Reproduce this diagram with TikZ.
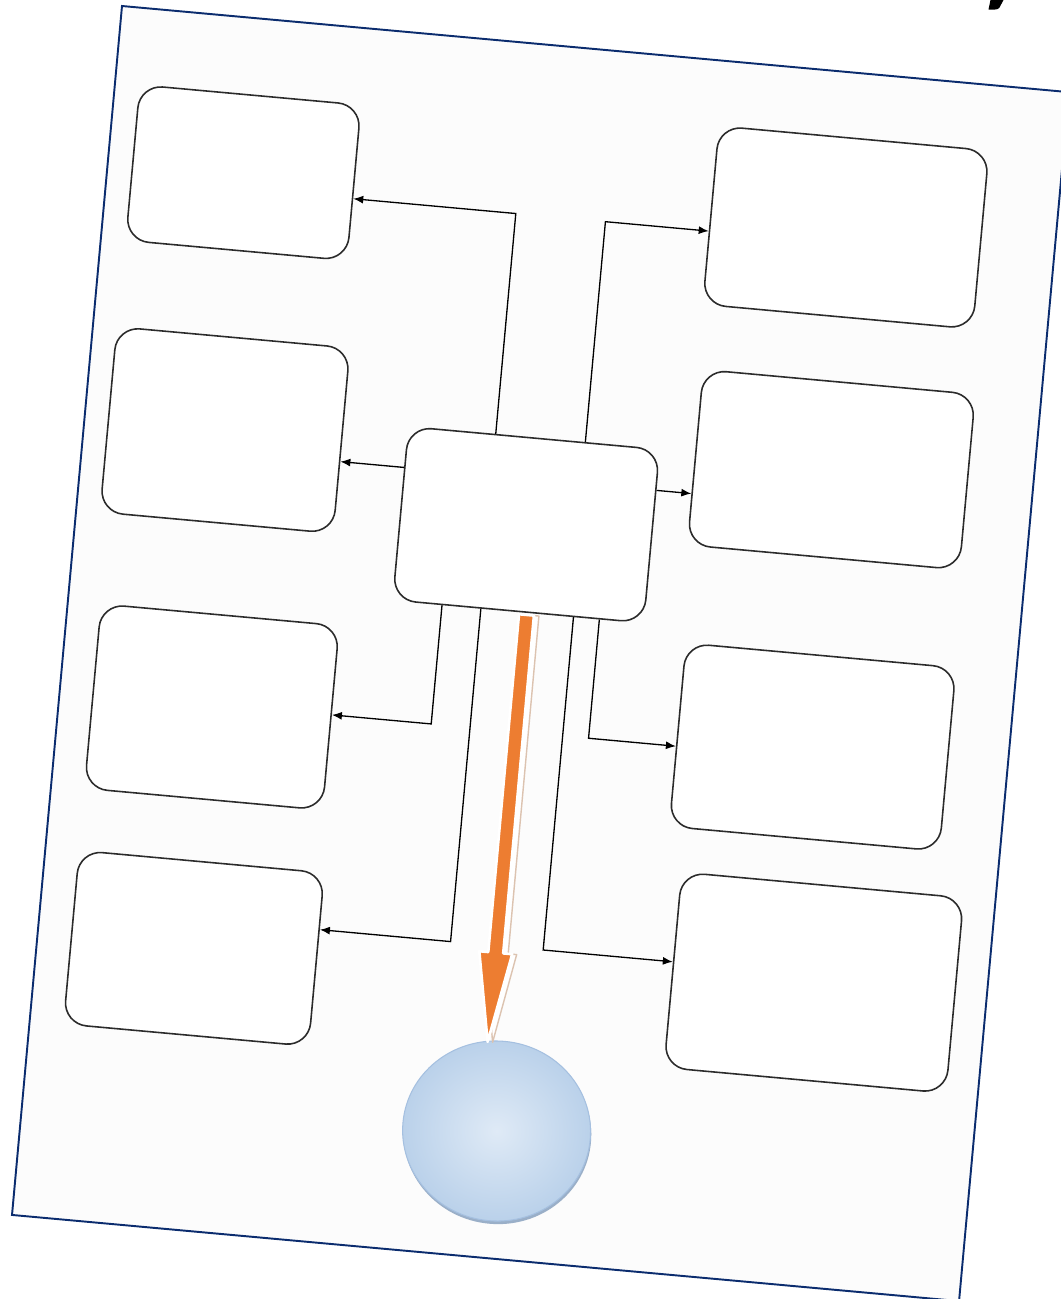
\documentclass[tikz,border=0pt]{standalone}
\usepackage{tikz}
\usetikzlibrary{arrows.meta, calc, shapes.geometric}
\definecolor{my_navy}{HTML}{0B2C6E}
\definecolor{my_paper}{HTML}{FCFCFC}
\definecolor{my_darkgray}{HTML}{2B2B2B}
\definecolor{my_orange}{HTML}{ED7D31}
\definecolor{my_tan}{HTML}{DCC3B0}
\definecolor{my_lightblue}{HTML}{DFEAF6}
\definecolor{my_midblue}{HTML}{BAD1EA}
\definecolor{my_edgeblue}{HTML}{A5C0E0}
\definecolor{my_shadowblue}{HTML}{9AAFC8}

% outline of the big arrow: #1 = sideways offset, #2 = half shaft, #3 = half head
\newcommand{\arrowoutline}[3]{%
  ($(aT)+(#1-#2,0)$) -- ($(aT)+(#1+#2,0)$) -- ($(aH)+(#1+#2,0)$) --
  ($(aH)+(#1+#3,0)$) -- ($(aB)+(#1,0)$) -- ($(aH)+(#1-#3,0)$) --
  ($(aH)+(#1-#2,0)$) -- cycle}

\begin{document}
\begin{tikzpicture}[
    x=0.2mm, y=-0.2mm,
    panel/.style={draw=my_darkgray, fill=white, line width=0.9pt,
                  rounded corners=4.6mm, inner sep=0pt},
    link/.style={black, line width=0.75pt,
                 -{Latex[length=2mm, width=1.6mm]}}
]
\useasboundingbox (0,0) rectangle (1061,1299);

% -------- Tilted sheet (everything on it in sheet coordinates) ----
\begin{scope}[transform canvas={shift={(24.4mm,-1.2mm)}, rotate=-5.2}]
\draw[my_navy, line width=1.1pt, fill=my_paper] (0,0) rectangle (951,1214);

% -------- Boxes -------------------------------------------------
\node[panel, minimum width=50.4mm, minimum height=34.8mm] (C)  at (449.5,480) {};
\node[panel, minimum width=44.4mm, minimum height=31.2mm] (L1) at (136,155) {};
\node[panel, minimum width=46.8mm, minimum height=37.2mm] (L2) at (141,413) {};
\node[panel, minimum width=47.8mm, minimum height=37.0mm] (L3) at (153,690) {};
\node[panel, minimum width=49.2mm, minimum height=34.8mm] (L4) at (157,932) {};
\node[panel, minimum width=54.2mm, minimum height=35.8mm] (R1) at (741,155) {};
\node[panel, minimum width=54.6mm, minimum height=35.2mm] (R2) at (748.5,397.5) {};
\node[panel, minimum width=54.2mm, minimum height=36.8mm] (R3) at (755,675.5) {};
\node[panel, minimum width=56.6mm, minimum height=39.2mm] (R4) at (777.5,910) {};

% -------- Elbow connectors ----------------------------------------
\coordinate (eL1) at (411,171);
\coordinate (eR1) at (501,171);
\coordinate (mid) at (449,434);
\coordinate (eL3) at (373,687);
\coordinate (eR3) at (531,687);
\coordinate (eL4) at (412,902);
\coordinate (eR4) at (505,902);

\draw[link] (C.north -| eL1) -- (eL1) -- (eL1 -| L1.east);
\draw[link] (C.north -| eR1) -- (eR1) -- (eR1 -| R1.west);
\draw[link] (C.west |- mid) -- (mid -| L2.east);
\draw[link] (C.east |- mid) -- (mid -| R2.west);
\draw[link] (C.south -| eL3) -- (eL3) -- (eL3 -| L3.east);
\draw[link] (C.south -| eR3) -- (eR3) -- (eR3 -| R3.west);
\draw[link] (C.south -| eL4) -- (eL4) -- (eL4 -| L4.east);
\draw[link] (C.south -| eR4) -- (eR4) -- (eR4 -| R4.west);

% -------- Ball at the bottom ----------------------------------------
\coordinate (ballc) at (475,1086.5);
\fill[my_shadowblue] ($(ballc)+(1,3)$) ellipse [x radius=18.8mm, y radius=18mm];
\node[ellipse, minimum width=37.6mm, minimum height=36mm, inner sep=0pt,
      draw=my_edgeblue, line width=0.6pt,
      shade, inner color=my_lightblue, outer color=my_midblue] (ball) at (ballc) {};

% -------- Big orange arrow into the ball ------------------------------
\coordinate (tip) at (458,998.5);
\coordinate (aT) at ($(C.south -| tip)+(0,2)$);
\coordinate (aB) at (tip);
\coordinate (aH) at ($(tip)+(0,-89.5)$);
\draw[my_tan, line width=0.8pt, fill=white, line join=round] \arrowoutline{5}{7.5}{16};
\draw[white, line width=1.5pt, fill=my_orange, line join=round] \arrowoutline{0}{7.5}{16.5};
\end{scope}

% -------- Cut-off glyph at the top edge ------------------------------
\fill[black] (990.5,0) -- (1003.5,0) -- (999.5,7.5)
    .. controls (998.5,9) and (997,9.5) .. (995,9.5) -- (988.5,9.5) -- cycle;

\end{tikzpicture}
\end{document}
